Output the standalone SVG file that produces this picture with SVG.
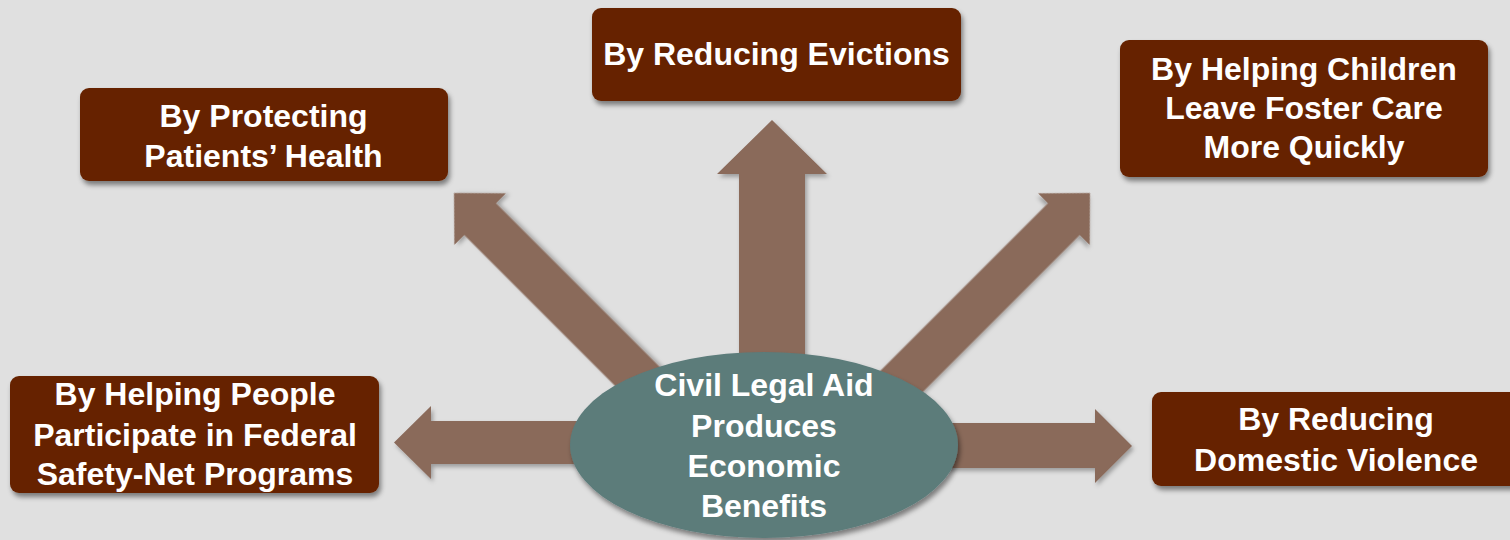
<svg xmlns="http://www.w3.org/2000/svg" width="1510" height="540" viewBox="0 0 1510 540">
  <style>
    .box { fill: #662400; }
    .arrow { fill: #8a6a5a; }
    .hub { fill: #5b7b7a; }
    .lbl { font-family: "Liberation Sans", Arial, sans-serif; font-weight: bold; font-size: 32px; fill: #ffffff; text-anchor: middle; }
  </style>
  <defs>
    <filter id="shadow" x="-10%" y="-10%" width="130%" height="140%">
      <feDropShadow dx="2" dy="4" stdDeviation="2.5" flood-color="#000000" flood-opacity="0.45"/>
    </filter>
    <filter id="ashadow" x="-20%" y="-20%" width="140%" height="140%">
      <feDropShadow dx="2" dy="3" stdDeviation="2" flood-color="#000000" flood-opacity="0.3"/>
    </filter>
  </defs>
  <rect x="0" y="0" width="1510" height="540" fill="#e0e0e0"/>

  <g id="connectors">
    <polygon class="arrow" filter="url(#ashadow)" points="739,360 739,174 717,174 772,120 827,174 805,174 805,360"/>
    <polygon class="arrow" filter="url(#ashadow)" points="600,421 431,421 431,406 394,442.5 431,479 431,464 600,464"/>
    <polygon class="arrow" filter="url(#ashadow)" points="930,423 1095,423 1095,409 1132,446 1095,483 1095,468 930,468"/>
    <polygon class="arrow" filter="url(#ashadow)" transform="translate(454,193) rotate(-45)" points="-22.5,320 -22.5,37 -36.5,37 0,0 36.5,37 22.5,37 22.5,320"/>
    <polygon class="arrow" filter="url(#ashadow)" transform="translate(1090,193) rotate(45)" points="-22.5,320 -22.5,37 -36.5,37 0,0 36.5,37 22.5,37 22.5,320"/>
  </g>

  <g id="hub">
    <ellipse class="hub" filter="url(#shadow)" cx="764" cy="445" rx="194" ry="93"/>
    <text class="lbl" x="764" y="396">Civil Legal Aid</text>
    <text class="lbl" x="764" y="437">Produces</text>
    <text class="lbl" x="764" y="477">Economic</text>
    <text class="lbl" x="764" y="517">Benefits</text>
  </g>

  <g id="node-evictions">
    <rect class="box" filter="url(#shadow)" x="592" y="8" width="369" height="93" rx="9"/>
    <text class="lbl" x="776.5" y="65">By Reducing Evictions</text>
  </g>

  <g id="node-health">
    <rect class="box" filter="url(#shadow)" x="80" y="88" width="368" height="93" rx="9"/>
    <text class="lbl" x="263.5" y="127">By Protecting</text>
    <text class="lbl" x="263.5" y="167">Patients’ Health</text>
  </g>

  <g id="node-foster">
    <rect class="box" filter="url(#shadow)" x="1120" y="40" width="368" height="137" rx="9"/>
    <text class="lbl" x="1304" y="80">By Helping Children</text>
    <text class="lbl" x="1304" y="119">Leave Foster Care</text>
    <text class="lbl" x="1304" y="158">More Quickly</text>
  </g>

  <g id="node-safetynet">
    <rect class="box" filter="url(#shadow)" x="10" y="376" width="369" height="117" rx="9"/>
    <text class="lbl" x="195" y="405">By Helping People</text>
    <text class="lbl" x="195" y="446">Participate in Federal</text>
    <text class="lbl" x="195" y="485">Safety-Net Programs</text>
  </g>

  <g id="node-violence">
    <rect class="box" filter="url(#shadow)" x="1152" y="392" width="380" height="94" rx="9"/>
    <text class="lbl" x="1336" y="430">By Reducing</text>
    <text class="lbl" x="1336" y="471">Domestic Violence</text>
  </g>
</svg>
